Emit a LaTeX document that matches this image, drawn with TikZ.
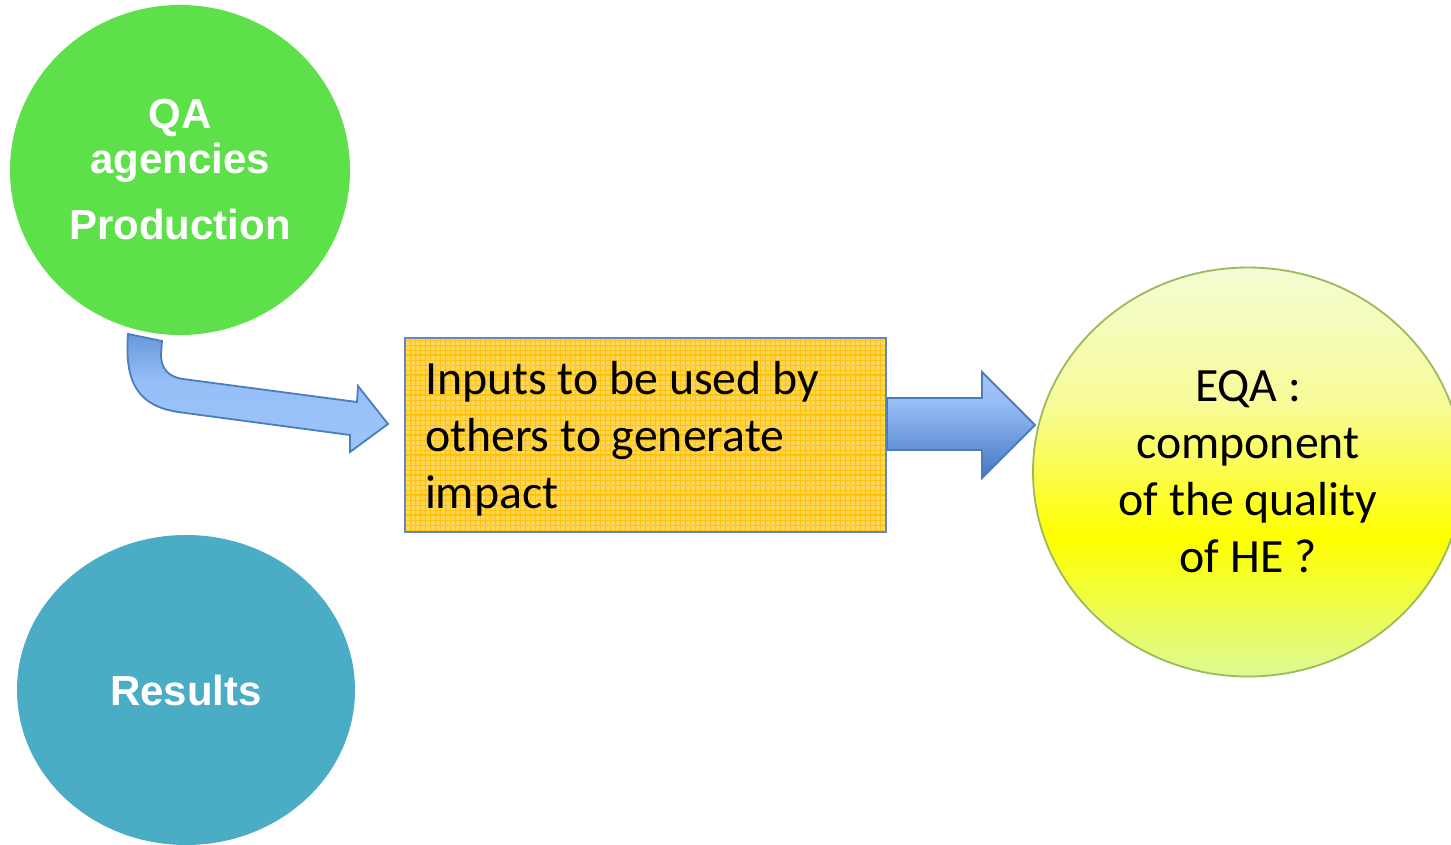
\documentclass[tikz,border=0pt]{standalone}
\usepackage{fontspec}
\setmainfont{Carlito}
\newfontfamily\headfont{Liberation Sans}
\usetikzlibrary{shapes.geometric}
\definecolor{qagreen}{RGB}{94,224,74}
\definecolor{resteal}{RGB}{75,172,198}
\definecolor{boxfill}{RGB}{255,214,92}
\definecolor{boxgrid}{RGB}{255,192,0}
\definecolor{boxedge}{RGB}{96,135,198}
\definecolor{arredge}{RGB}{74,126,187}
\definecolor{eqaedge}{RGB}{155,187,89}
\definecolor{ybot}{RGB}{220,250,150}
\definecolor{ymid}{RGB}{255,255,0}
\definecolor{yup}{RGB}{248,251,150}
\definecolor{ytop}{RGB}{243,252,212}
\definecolor{ra1}{RGB}{68,119,194}
\definecolor{ra2}{RGB}{150,188,244}
\definecolor{ra3}{RGB}{163,198,250}
\definecolor{ca1}{RGB}{156,196,250}
\definecolor{ca2}{RGB}{151,191,247}
\definecolor{ca3}{RGB}{103,151,220}
\pgfdeclareverticalshading{eqashade}{100bp}{color(0bp)=(ybot); color(25bp)=(ybot); color(42bp)=(ymid); color(58bp)=(yup); color(75bp)=(ytop); color(100bp)=(ytop)}
\pgfdeclareverticalshading{rarrowshade}{100bp}{color(0bp)=(ra1); color(25bp)=(ra1); color(60bp)=(ra2); color(75bp)=(ra3); color(100bp)=(ra3)}
\pgfdeclareverticalshading{carrowshade}{100bp}{color(0bp)=(ca1); color(25bp)=(ca1); color(55bp)=(ca2); color(75bp)=(ca3); color(100bp)=(ca3)}
\begin{document}
\begin{tikzpicture}[x=0.5pt,y=-0.5pt,
  circlenode/.style={ellipse, inner sep=0pt, text=white, align=center,
    font=\headfont\bfseries\fontsize{21}{22.5}\selectfont},
  blockarrow/.style={draw=arredge, line width=0.9pt, line join=miter},
  bodytext/.style={font=\fontsize{23.9}{28.5}\selectfont, text=black}]
\fill[white] (0,0) rectangle (1451,845);
\useasboundingbox (0,0) rectangle (1451,845);

% circles
\node[circlenode, fill=qagreen, minimum width=170pt, minimum height=165pt] (qa) at (180,170)
  {QA\\agencies\\[10.5pt]Production};
\node[circlenode, fill=resteal, minimum width=169pt, minimum height=155pt] (results) at (186,690)
  {Results};

% box
\node[rectangle, draw=boxedge, line width=0.9pt, fill=boxfill, bodytext,
  minimum width=240.5pt, minimum height=97pt, text width=220.5pt, align=flush left,
  inner xsep=10pt,
  path picture={\draw[boxgrid, line width=0.25pt, opacity=0.8]
    (path picture bounding box.south west) grid[step=2.5pt] (path picture bounding box.north east);
    \draw[boxgrid, line width=0.5pt]
    (path picture bounding box.south west) grid[step=10pt] (path picture bounding box.north east);}]
  (inputs) at (645.5,435) {\rule{0pt}{20.7pt}Inputs to be used by\\others to generate\\impact};

% ellipse
\node[ellipse, draw=eqaedge, line width=0.9pt, shading=eqashade, bodytext, align=center,
  minimum width=215pt, minimum height=204.5pt, inner sep=0pt] (eqa) at (1248,472)
  {EQA :\\component\\of the quality\\of HE ?};

% curved block arrow from QA circle to box
\path[blockarrow, shading=carrowshade]
  (128,334) .. controls (124,385) and (140,406) .. (178,412)
  -- (350,435) -- (350,452) -- (388,424) -- (358,386) -- (357,402)
  -- (183,379) .. controls (168,377) and (161,368) .. (161,355)
  -- (162,341) -- cycle;

% straight block arrow from box to ellipse
\path[blockarrow, shading=rarrowshade]
  (inputs.east |- 0,398) -- (982,398) -- (982,372) -- (1035,425) -- (982,478)
  -- (982,450) -- (inputs.east |- 0,450) -- cycle;
\end{tikzpicture}
\end{document}
